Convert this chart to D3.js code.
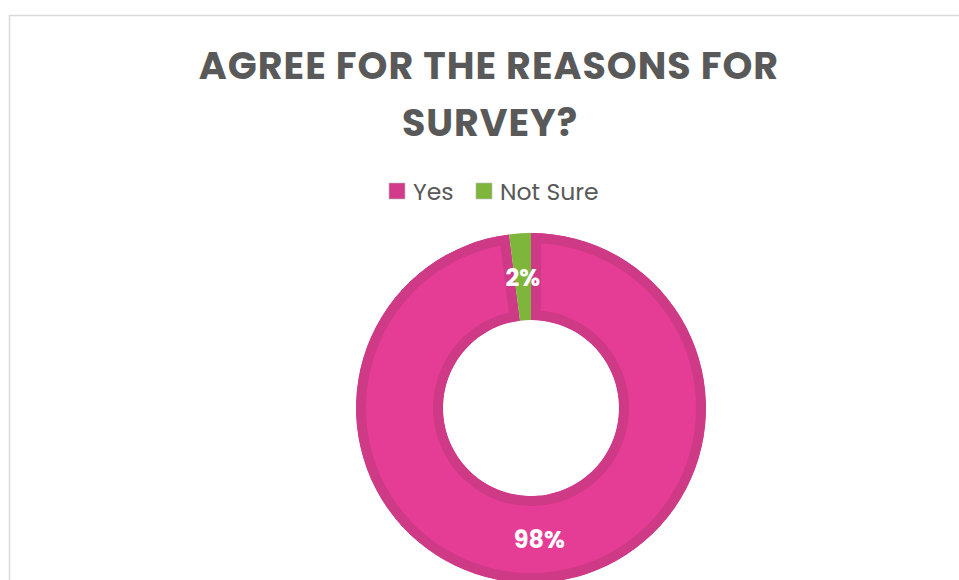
<!DOCTYPE html>
<html><head><meta charset="utf-8">
<script src="https://cdn.jsdelivr.net/npm/d3@7"></script>
<style>html,body{margin:0;padding:0;background:#fff;overflow:hidden}</style>
</head><body><svg id="c" width="959" height="580"></svg>
<script>
const titleLines = ["AGREE FOR THE REASONS FOR", "SURVEY?"];
const categories = ["Yes", "Not Sure"];
const values = [98, 2];
const labels = ["98%", "2%"];
const colors = ["#E53D95", "#7DB63B"];
const strokes = ["#CF3A87", null];

const svg = d3.select("#c");
svg.append("rect").attr("x", 9.5).attr("y", 15.5).attr("width", 1000).attr("height", 700)
  .attr("fill", "#fff").attr("stroke", "#D9D9D9").attr("stroke-width", 1.5);

const font = "Poppins, 'Open Sans', sans-serif";
const tl = [[489, 79], [490, 136]];
titleLines.forEach((t, i) => {
  svg.append("text").attr("x", tl[i][0]).attr("y", tl[i][1]).attr("text-anchor", "middle")
    .attr("font-family", font).attr("font-weight", 700).attr("font-size", 38)
    .attr("fill", "#595959").attr("letter-spacing", 1)
    .text(t);
});

// legend
const legX = [389, 476];
categories.forEach((c, i) => {
  const g = svg.append("g").attr("transform", `translate(${legX[i]},183)`);
  g.append("rect").attr("width", 16).attr("height", 16).attr("fill", i === 0 ? "#D13B8A" : colors[i])
    .attr("stroke", "#bbb").attr("stroke-width", 0.6);
  g.append("text").attr("x", 24).attr("y", 17).attr("font-family", font)
    .attr("font-size", 23.5).attr("fill", "#595959").text(c);
});

const cx = 531, cy = 408, R = 175, r = 88;
const pie = d3.pie().sort(null).value(d => d)(values);
const arc = d3.arc().innerRadius(r).outerRadius(R);
const g = svg.append("g").attr("transform", `translate(${cx},${cy})`);
const defs = svg.append("defs");
pie.forEach((p, i) => {
  const d = arc(p);
  defs.append("clipPath").attr("id", "clip" + i).append("path").attr("d", d);
  const path = g.append("path").attr("d", d).attr("fill", colors[i]);
  if (strokes[i]) {
    path.attr("stroke", strokes[i]).attr("stroke-width", 20).attr("clip-path", `url(#clip${i})`);
  }
});
pie.forEach((p, i) => {
  const [x, y] = arc.centroid(p);
  g.append("text").attr("x", x).attr("y", y + 9).attr("text-anchor", "middle")
    .attr("font-family", font).attr("font-weight", 700).attr("font-size", 24)
    .attr("fill", "#fff").text(labels[i]);
});
</script></body></html>
